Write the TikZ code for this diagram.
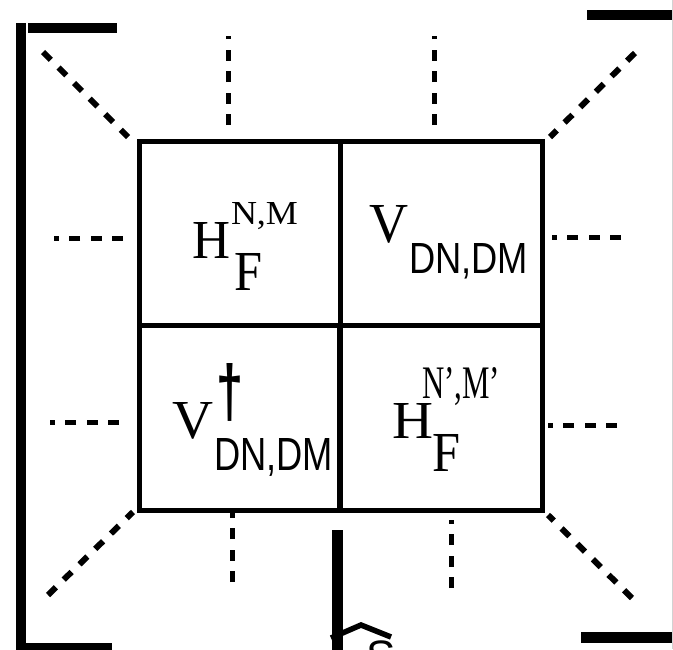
\documentclass[tikz,border=0pt]{standalone}
\usepackage{fontspec}
\setmainfont{Liberation Serif}
\newfontfamily\sansf{Liberation Sans}
\usepackage{graphicx}
\begin{document}
\begin{tikzpicture}[x=1pt,y=-1pt,
  cell/.style={draw, line width=4.5pt, rectangle, inner sep=0pt, anchor=north west},
  diagdash/.style={line width=6pt, dash pattern=on 11pt off 11pt},
  stubdash/.style={line width=5pt, dash pattern=on 11pt off 10.5pt},
  lbl/.style={anchor=base west, inner sep=0pt, outer sep=0pt},
  hatstroke/.style={line width=5.5pt, line join=miter}
]
\useasboundingbox (0,0) rectangle (673,649);
\clip (0,0) rectangle (673,649);

% the 2x2 block matrix
\node[cell, minimum width=201pt, minimum height=184pt] (c11) at (137,139) {};
\node[cell, minimum width=202pt, minimum height=184pt] (c12) at (338,139) {};
\node[cell, minimum width=200pt, minimum height=185pt] (c21) at (137,323) {};
\node[cell, minimum width=202pt, minimum height=185pt] (c22) at (338,323) {};

% entries
\node[lbl] (h1) at (192,258) {\resizebox{38pt}{36pt}{H}};
\node[lbl] (h1sup) at (231,224) {\resizebox{67pt}{22pt}{N,M}};
\node[lbl] (h1sub) at (234,290) {\resizebox{28pt}{37pt}{F}};

\node[lbl] (v1) at (369,242) {\resizebox{39pt}{37pt}{V}};
\node[lbl] (v1sub) at (409,273) {\resizebox{119pt}{30pt}{\sansf DN,DM}};

\node[lbl] (v2) at (172,438) {\resizebox{41pt}{36pt}{V}};
\node[lbl] (v2dag) at (216,416) {\resizebox{27pt}{53pt}{\sansf\bfseries\char"2020}};
\node[lbl] (v2sub) at (214,470) {\resizebox{119pt}{32pt}{\sansf DN,DM}};

\node[lbl] (h2) at (392,438) {\resizebox{41pt}{35pt}{H}};
\node[lbl] (h2sup) at (422,398) {\resizebox{78pt}{31pt}{N',M'}};
\node[lbl] (h2sub) at (432,471) {\resizebox{28pt}{37pt}{F}};

% bracket bars
\fill (16,23) rectangle (26,649);
\fill (28,23) rectangle (117,33);
\fill (16,643) rectangle (112,652);
\fill (587,10) rectangle (673,20);
\fill (581,632) rectangle (672,643);
\draw[gray!35, line width=0.8pt] (672.4,0) -- (672.4,649);

% corner dots
\draw[diagdash] (43,52) -- (128,137);
\draw[diagdash] (635,53) -- (550,137);
\draw[diagdash] (48,595) -- (133,512);
\draw[diagdash] (632,598) -- (548,515);

% top stubs
\draw[stubdash] (228,125) -- (228,36);
\draw[stubdash] (434,125) -- (434,36);
% side stubs
\draw[stubdash] (123,238) -- (54,238);
\draw[stubdash] (119,422) -- (50,422);
\draw[stubdash] (621,237) -- (552,237);
\draw[stubdash] (617,425) -- (548,425);
% bottom stubs
\draw[stubdash] (232,582) -- (232,513);
\draw[stubdash] (451,588) -- (451,520);

% operator below the matrix
\fill (332,530) rectangle (343,652);
\draw[hatstroke] (331,638) -- (361,625) -- (391,637);
\node[lbl] (sop) at (366,671) {\fontsize{44}{44}\selectfont\sansf S};
\end{tikzpicture}
\end{document}
